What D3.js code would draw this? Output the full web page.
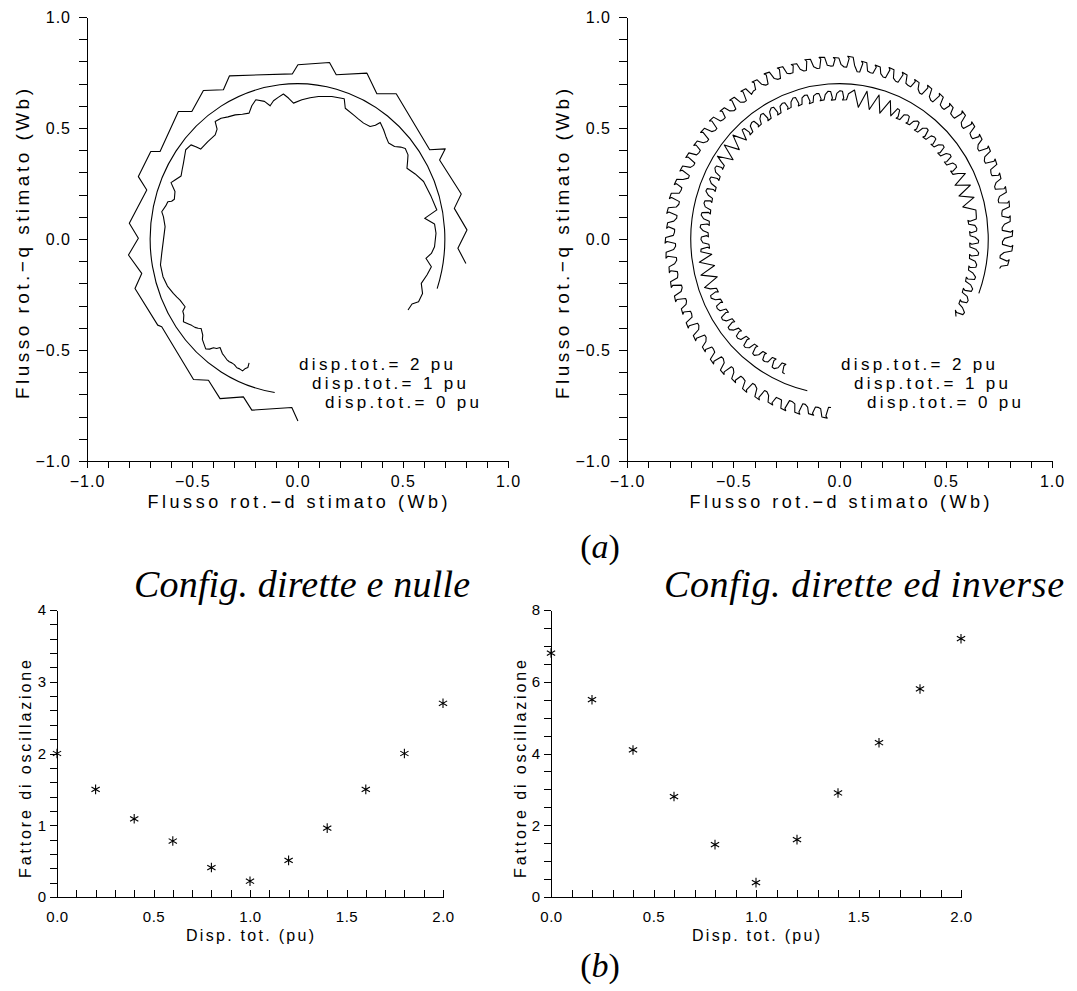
<!DOCTYPE html>
<html>
<head>
<meta charset="utf-8">
<script src="https://cdn.jsdelivr.net/npm/d3@7"></script>
<style>
  body { margin: 0; background: #fff; }
  svg { display: block; background: #fff; }
  .sans { font-family: "Liberation Sans", Arial, Helvetica, sans-serif; fill: #000; }
  .serif { font-family: "Liberation Serif", "Times New Roman", Times, serif; fill: #000; }
  .axis path, .axis line { stroke: #000; stroke-width: 1; shape-rendering: crispEdges; }
  .trace { fill: none; stroke: #000; stroke-width: 1.1; stroke-linejoin: round; }
</style>
</head>
<body>
<svg id="fig" width="1077" height="991"></svg>
<script>
// ---------- (a) estimated rotor flux loci ----------
// reference locus for disp.tot.= 0 pu: circle of radius 0.7 Wb, arc limits in degrees
const refRadius = 0.7;
const refArcNulle = [-18.6, 261.1];
const refArcInverse = [-20.5, 257.5];

// "Config. dirette e nulle", disp.tot.= 2 pu  (d, q) in Wb
const nulle2pu = [
  [0.002,-0.820],[-0.027,-0.759],[-0.217,-0.771],[-0.257,-0.711],[-0.368,-0.719],
  [-0.423,-0.636],[-0.494,-0.633],[-0.645,-0.395],[-0.664,-0.388],[-0.772,-0.223],
  [-0.740,-0.155],[-0.803,-0.072],[-0.756,0.003],[-0.799,0.071],[-0.716,0.221],
  [-0.756,0.281],[-0.697,0.394],[-0.653,0.394],[-0.566,0.574],[-0.502,0.574],
  [-0.447,0.669],[-0.352,0.672],[-0.323,0.735],[-0.024,0.744],[0.002,0.785],
  [0.152,0.795],[0.184,0.740],[0.330,0.747],[0.377,0.654],[0.469,0.654],
  [0.628,0.402],[0.702,0.406],[0.675,0.356],[0.778,0.203],[0.745,0.138],
  [0.805,0.041],[0.762,-0.042],[0.800,-0.110]
];

// "Config. dirette e nulle", disp.tot.= 1 pu  (d, q) in Wb
const nulle1pu = [
  [-0.230,-0.558],[-0.236,-0.579],[-0.250,-0.585],[-0.261,-0.594],[-0.275,-0.585],[-0.288,-0.580],
  [-0.300,-0.566],[-0.312,-0.558],[-0.324,-0.553],[-0.336,-0.543],[-0.348,-0.527],[-0.357,-0.516],
  [-0.368,-0.489],[-0.384,-0.493],[-0.399,-0.490],[-0.418,-0.496],[-0.436,-0.495],[-0.445,-0.471],
  [-0.452,-0.452],[-0.450,-0.433],[-0.458,-0.403],[-0.472,-0.402],[-0.487,-0.398],[-0.503,-0.389],
  [-0.518,-0.383],[-0.542,-0.373],[-0.540,-0.343],[-0.545,-0.325],[-0.534,-0.305],[-0.558,-0.275],
  [-0.573,-0.262],[-0.590,-0.245],[-0.618,-0.212],[-0.639,-0.170],[-0.651,-0.117],[-0.645,-0.065],
  [-0.637,-0.005],[-0.629,0.056],[-0.637,0.101],[-0.645,0.123],[-0.626,0.149],[-0.616,0.168],
  [-0.598,0.170],[-0.585,0.179],[-0.582,0.214],[-0.601,0.254],[-0.582,0.266],[-0.553,0.284],
  [-0.548,0.312],[-0.542,0.341],[-0.531,0.402],[-0.506,0.424],[-0.483,0.416],[-0.460,0.405],
  [-0.426,0.439],[-0.391,0.469],[-0.382,0.495],[-0.391,0.529],[-0.363,0.544],[-0.330,0.550],
  [-0.296,0.559],[-0.262,0.562],[-0.230,0.567],[-0.217,0.600],[-0.198,0.627],[-0.157,0.620],
  [-0.130,0.600],[-0.114,0.623],[-0.090,0.639],[-0.067,0.653],[-0.043,0.635],[-0.019,0.612],
  [0.021,0.627],[0.060,0.636],[0.100,0.642],[0.163,0.642],[0.222,0.632],[0.227,0.589],
  [0.266,0.559],[0.290,0.540],[0.314,0.522],[0.345,0.507],[0.370,0.512],[0.393,0.525],
  [0.409,0.492],[0.420,0.462],[0.433,0.432],[0.461,0.417],[0.490,0.414],[0.512,0.408],
  [0.525,0.379],[0.523,0.350],[0.520,0.319],[0.559,0.293],[0.599,0.259],[0.635,0.191],
  [0.662,0.131],[0.604,0.093],[0.651,0.068],[0.658,0.026],[0.651,-0.035],[0.636,-0.065],
  [0.610,-0.087],[0.636,-0.125],[0.615,-0.162],[0.588,-0.200],[0.594,-0.245],[0.575,-0.283],
  [0.544,-0.293],[0.525,-0.320]
];

// "Config. dirette ed inverse", disp.tot.= 2 pu  [angle deg, magnitude Wb]
const inverse2pu = [
  [267,.76],[266.1,.76],[265.4,.80],[265.9,.809],[264.1,.806],[263.4,.77],
  [262.4,.765],[261.5,.765],[260.8,.795],[261.3,.803],[259.5,.80],[258.8,.772],
  [257.8,.762],[256.9,.762],[256.2,.802],[256.7,.811],[254.9,.808],[254.2,.772],
  [253,.765],[252.1,.765],[251.4,.805],[251.9,.814],[250.1,.811],[249.4,.775],
  [248.3,.773],[247.4,.773],[246.7,.803],[247.2,.811],[245.4,.808],[244.7,.78],
  [243.6,.768],[242.7,.768],[242,.808],[242.5,.817],[240.7,.814],[240,.778],
  [238.8,.768],[237.9,.768],[237.2,.808],[237.7,.817],[235.9,.814],[235.2,.778],
  [234,.773],[233.1,.773],[232.4,.803],[232.9,.811],[231.1,.808],[230.4,.78],
  [229.4,.768],[228.5,.768],[227.8,.808],[228.3,.817],[226.5,.814],[225.8,.778],
  [224.6,.768],[223.7,.768],[223,.808],[223.5,.817],[221.7,.814],[221,.778],
  [219.9,.773],[219,.773],[218.3,.803],[218.8,.811],[217,.808],[216.3,.78],
  [215.2,.768],[214.3,.768],[213.6,.808],[214.1,.817],[212.3,.814],[211.6,.778],
  [210.5,.768],[209.6,.768],[208.9,.808],[209.4,.817],[207.6,.814],[206.9,.778],
  [205.8,.773],[204.9,.773],[204.2,.803],[204.7,.811],[202.9,.808],[202.2,.78],
  [201.2,.772],[200.3,.772],[199.6,.812],[200.1,.821],[198.3,.818],[197.6,.782],
  [196.5,.772],[195.6,.772],[194.9,.812],[195.4,.821],[193.6,.818],[192.9,.782],
  [191.8,.777],[190.9,.777],[190.2,.807],[190.7,.815],[188.9,.812],[188.2,.784],
  [187.1,.772],[186.2,.772],[185.5,.812],[186,.821],[184.2,.818],[183.5,.782],
  [182.4,.772],[181.5,.772],[180.8,.812],[181.3,.821],[179.5,.818],[178.8,.782],
  [177.7,.777],[176.8,.777],[176.1,.807],[176.6,.815],[174.8,.812],[174.1,.784],
  [173,.772],[172.1,.772],[171.4,.812],[171.9,.821],[170.1,.818],[169.4,.782],
  [168.3,.772],[167.4,.772],[166.7,.812],[167.2,.821],[165.4,.818],[164.7,.782],
  [163.6,.777],[162.7,.777],[162,.807],[162.5,.815],[160.7,.812],[160,.784],
  [158.9,.762],[158,.762],[157.3,.802],[157.8,.811],[156,.808],[155.3,.772],
  [154.2,.762],[153.3,.762],[152.6,.802],[153.1,.811],[151.3,.808],[150.6,.772],
  [149.5,.767],[148.6,.767],[147.9,.797],[148.4,.805],[146.6,.802],[145.9,.774],
  [144.8,.762],[143.9,.762],[143.2,.802],[143.7,.811],[141.9,.808],[141.2,.772],
  [140.1,.762],[139.2,.762],[138.5,.802],[139,.811],[137.2,.808],[136.5,.772],
  [135.4,.767],[134.5,.767],[133.8,.797],[134.3,.805],[132.5,.802],[131.8,.774],
  [130.7,.762],[129.8,.762],[129.1,.802],[129.6,.811],[127.8,.808],[127.1,.772],
  [126,.762],[125.1,.762],[124.4,.802],[124.9,.811],[123.1,.808],[122.4,.772],
  [121.3,.78],[120.4,.78],[119.7,.81],[120.2,.818],[118.4,.815],[117.7,.787],
  [116.6,.775],[115.7,.775],[115,.815],[115.5,.824],[113.7,.821],[113,.785],
  [111.9,.775],[111,.775],[110.3,.815],[110.8,.824],[109,.821],[108.3,.785],
  [107.2,.78],[106.3,.78],[105.6,.81],[106.1,.818],[104.3,.815],[103.6,.787],
  [102.5,.775],[101.6,.775],[100.9,.815],[101.4,.824],[99.6,.821],[98.9,.785],
  [97.8,.775],[96.9,.775],[96.2,.815],[96.7,.824],[94.9,.821],[94.2,.785],
  [93.1,.78],[92.2,.78],[91.5,.81],[92,.818],[90.2,.815],[89.5,.787],
  [88.4,.775],[87.5,.775],[86.8,.815],[87.3,.824],[85.5,.821],[84.8,.785],
  [83.7,.758],[82.8,.758],[82.1,.798],[82.6,.807],[80.8,.804],[80.1,.768],
  [79,.763],[78.1,.763],[77.4,.793],[77.9,.801],[76.1,.798],[75.4,.77],
  [74.3,.758],[73.4,.758],[72.7,.798],[73.2,.807],[71.4,.804],[70.7,.768],
  [69.6,.758],[68.7,.758],[68,.798],[68.5,.807],[66.7,.804],[66,.768],
  [64.9,.763],[64,.763],[63.3,.793],[63.8,.801],[62,.798],[61.3,.77],
  [60.2,.758],[59.3,.758],[58.6,.798],[59.1,.807],[57.3,.804],[56.6,.768],
  [55.5,.758],[54.6,.758],[53.9,.798],[54.4,.807],[52.6,.804],[51.9,.768],
  [50.8,.763],[49.9,.763],[49.2,.793],[49.7,.801],[47.9,.798],[47.2,.77],
  [46.1,.767],[45.2,.767],[44.5,.807],[45,.816],[43.2,.813],[42.5,.777],
  [41.4,.767],[40.5,.767],[39.8,.807],[40.3,.816],[38.5,.813],[37.8,.777],
  [36.7,.772],[35.8,.772],[35.1,.802],[35.6,.81],[33.8,.807],[33.1,.779],
  [32,.767],[31.1,.767],[30.4,.807],[30.9,.816],[29.1,.813],[28.4,.777],
  [27.3,.767],[26.4,.767],[25.7,.807],[26.2,.816],[24.4,.813],[23.7,.777],
  [22.6,.772],[21.7,.772],[21,.802],[21.5,.81],[19.7,.807],[19,.779],
  [17.9,.767],[17,.767],[16.3,.807],[16.8,.816],[15,.813],[14.3,.777],
  [13.2,.767],[12.3,.767],[11.6,.807],[12.1,.816],[10.3,.813],[9.6,.777],
  [8.5,.772],[7.6,.772],[6.9,.802],[7.4,.81],[5.6,.807],[4.9,.779],
  [3.8,.767],[2.9,.767],[2.2,.807],[2.7,.816],[0.9,.813],[0.2,.777],
  [-0.9,.767],[-1.8,.767],[-2.5,.807],[-2,.816],[-3.8,.813],[-4.5,.777],
  [-5.6,.76],[-6.5,.76],[-7.2,.795],[-6.7,.804],[-8.5,.80],[-9.2,.77],
  [-10,.765]
];

// "Config. dirette ed inverse", disp.tot.= 1 pu  [angle deg, magnitude Wb]
const inverse1pu = [
  [247,0.66],[246,0.658],[245.4,0.628],[245.9,0.618],[244.2,0.62],[243.5,0.648],
  [242.2,0.66],[241.2,0.658],[240.6,0.628],[241.1,0.618],[239.4,0.62],[238.7,0.648],
  [237.4,0.655],[236.4,0.653],[235.8,0.628],[236.3,0.62],[234.6,0.622],[233.9,0.645],
  [232.6,0.66],[231.6,0.658],[231,0.628],[231.5,0.618],[229.8,0.62],[229.1,0.648],
  [227.8,0.66],[226.8,0.658],[226.2,0.628],[226.7,0.618],[225,0.62],[224.3,0.648],
  [223,0.655],[222,0.653],[221.4,0.628],[221.9,0.62],[220.2,0.622],[219.5,0.645],
  [218.2,0.66],[217.2,0.658],[216.6,0.628],[217.1,0.618],[215.4,0.62],[214.7,0.648],
  [213.4,0.66],[212.4,0.658],[211.8,0.628],[212.3,0.618],[210.6,0.62],[209.9,0.648],
  [208.6,0.655],[207.6,0.653],[207,0.628],[207.5,0.62],[205.8,0.622],[205.1,0.645],
  [203.8,0.66],[202.8,0.658],[202.2,0.628],[202.7,0.618],[201,0.62],[200.3,0.648],
  [199,0.672],[196.5,0.60],[194,0.672],[191.5,0.60],[189,0.668],[186.5,0.605],
  [185,0.655],[184,0.653],[183.4,0.623],[183.9,0.613],[182.2,0.615],[181.5,0.643],
  [180.2,0.652],[179.2,0.65],[178.6,0.625],[179.1,0.617],[177.4,0.619],[176.7,0.642],
  [175.4,0.658],[174.4,0.656],[173.8,0.626],[174.3,0.616],[172.6,0.618],[171.9,0.646],
  [170.6,0.66],[169.6,0.658],[169,0.628],[169.5,0.618],[167.8,0.62],[167.1,0.648],
  [165.8,0.658],[164.8,0.656],[164.2,0.631],[164.7,0.623],[163,0.625],[162.3,0.648],
  [161,0.665],[160,0.663],[159.4,0.633],[159.9,0.623],[158.2,0.625],[157.5,0.653],
  [156.2,0.668],[155.2,0.666],[154.6,0.636],[155.1,0.626],[153.4,0.628],[152.7,0.656],
  [151.4,0.668],[150.4,0.666],[149.8,0.641],[150.3,0.633],[148.6,0.635],[147.9,0.658],
  [147,0.685],[144.5,0.615],[142,0.688],[139.5,0.62],[137,0.686],[134.5,0.625],
  [133,0.672],[132,0.67],[131.4,0.64],[131.9,0.63],[130.2,0.632],[129.5,0.66],
  [128.2,0.668],[127.2,0.666],[126.6,0.641],[127.1,0.633],[125.4,0.635],[124.7,0.658],
  [123.4,0.672],[122.4,0.67],[121.8,0.64],[122.3,0.63],[120.6,0.632],[119.9,0.66],
  [118.6,0.672],[117.6,0.67],[117,0.64],[117.5,0.63],[115.8,0.632],[115.1,0.66],
  [113.8,0.668],[112.8,0.666],[112.2,0.641],[112.7,0.633],[111,0.635],[110.3,0.658],
  [109,0.672],[108,0.67],[107.4,0.64],[107.9,0.63],[106.2,0.632],[105.5,0.66],
  [104.2,0.668],[103.2,0.666],[102.6,0.636],[103.1,0.626],[101.4,0.628],[100.7,0.656],
  [99.4,0.664],[98.4,0.662],[97.8,0.637],[98.3,0.629],[96.6,0.631],[95.9,0.654],
  [94.6,0.668],[93.6,0.666],[93,0.636],[93.5,0.626],[91.8,0.628],[91.1,0.656],
  [89.8,0.668],[88.8,0.666],[88.2,0.636],[88.7,0.626],[87,0.628],[86.3,0.656],
  [84,0.675],[81.5,0.60],[79,0.678],[76.5,0.60],[74,0.675],[71.5,0.598],[69,0.668],[66.5,0.605],
  [65,0.648],[64,0.646],[63.4,0.616],[63.9,0.606],[62.2,0.608],[61.5,0.636],
  [60.2,0.644],[59.2,0.642],[58.6,0.617],[59.1,0.609],[57.4,0.611],[56.7,0.634],
  [55.4,0.646],[54.4,0.644],[53.8,0.614],[54.3,0.604],[52.6,0.606],[51.9,0.634],
  [50.6,0.646],[49.6,0.644],[49,0.614],[49.5,0.604],[47.8,0.606],[47.1,0.634],
  [45.8,0.641],[44.8,0.639],[44.2,0.614],[44.7,0.606],[43,0.608],[42.3,0.631],
  [41,0.645],[40,0.643],[39.4,0.613],[39.9,0.603],[38.2,0.605],[37.5,0.633],
  [36.2,0.645],[35.2,0.643],[34.6,0.613],[35.1,0.603],[33.4,0.605],[32.7,0.633],
  [31.4,0.641],[30.4,0.639],[29.8,0.614],[30.3,0.606],[28.6,0.608],[27.9,0.631],
  [26.5,0.662],[24,0.595],[21.5,0.662],[19,0.595],[16.5,0.66],[14,0.598],[11.5,0.655],
  [9,0.652],[8,0.65],[7.4,0.62],[7.9,0.61],[6.2,0.612],[5.5,0.64],
  [4.2,0.648],[3.2,0.646],[2.6,0.621],[3.1,0.613],[1.4,0.615],[0.7,0.638],
  [-0.6,0.655],[-1.6,0.653],[-2.2,0.623],[-1.7,0.613],[-3.4,0.615],[-4.1,0.643],
  [-5.4,0.658],[-6.4,0.656],[-7,0.626],[-6.5,0.616],[-8.2,0.618],[-8.9,0.646],
  [-10.2,0.656],[-11.2,0.654],[-11.8,0.629],[-11.3,0.621],[-13,0.623],[-13.7,0.646],
  [-15,0.663],[-16,0.661],[-16.6,0.631],[-16.1,0.621],[-17.8,0.623],[-18.5,0.651],
  [-19.8,0.666],[-20.8,0.664],[-21.4,0.634],[-20.9,0.624],[-22.6,0.626],[-23.3,0.654],
  [-24.6,0.666],[-25.6,0.664],[-26.2,0.639],[-25.7,0.631],[-27.4,0.633],[-28.1,0.656],
  [-29.4,0.675],[-30.4,0.673],[-31,0.643],[-30.5,0.633],[-32.5,0.65]
];

const legendLines = ["disp.tot.=  2  pu", "disp.tot.=  1  pu", "disp.tot.=  0  pu"];

// ---------- (b) oscillation factor vs total displacement ----------
const dispTot = [0.0, 0.2, 0.4, 0.6, 0.8, 1.0, 1.2, 1.4, 1.6, 1.8, 2.0];
const oscNulle = [2.0, 1.5, 1.09, 0.78, 0.41, 0.22, 0.51, 0.96, 1.5, 2.0, 2.7];
const oscInverse = [6.8, 5.5, 4.1, 2.8, 1.46, 0.4, 1.6, 2.9, 4.3, 5.8, 7.2];

const fluxTicks = d3.range(-10, 11).map(i => i / 10);
const fluxLabels = [-1, -0.5, 0, 0.5, 1];
const dispTicks = d3.range(0, 21).map(i => i / 10);
const dispLabels = [0, 0.5, 1, 1.5, 2];
const oscNulleTicks = d3.range(0, 21).map(i => i / 5);
const oscNulleLabels = [0, 1, 2, 3, 4];
const oscInverseTicks = d3.range(0, 17).map(i => i / 2);
const oscInverseLabels = [0, 2, 4, 6, 8];

const svg = d3.select("#fig");
const fmt1 = d3.format(".1f");
const isIn = (arr, d) => arr.some(v => Math.abs(v - d) < 1e-9);
const rad = Math.PI / 180;

function fluxPanel(cfg) {
  const x = d3.scaleLinear([-1, 1], [cfg.left, cfg.right]);
  const y = d3.scaleLinear([-1, 1], [cfg.bottom, cfg.top]);
  const g = svg.append("g");

  g.append("g").attr("class", "axis sans")
    .attr("transform", `translate(${cfg.left},0)`)
    .call(d3.axisLeft(y).tickValues(fluxTicks).tickSize(8).tickPadding(8).tickSizeOuter(0)
      .tickFormat(d => isIn(fluxLabels, d) ? fmt1(d) : ""))
    .call(a => a.selectAll("text").attr("font-size", 16).attr("font-family", null).attr("letter-spacing", 1));

  g.append("g").attr("class", "axis sans")
    .attr("transform", `translate(0,${cfg.bottom})`)
    .call(d3.axisBottom(x).tickValues(fluxTicks).tickSize(7).tickPadding(8).tickSizeOuter(0)
      .tickFormat(d => isIn(fluxLabels, d) ? fmt1(d) : ""))
    .call(a => a.selectAll("text").attr("font-size", 16).attr("font-family", null).attr("letter-spacing", 1));

  g.selectAll(".axis").attr("fill", null);

  // axis titles
  g.append("text").attr("class", "sans")
    .attr("x", (cfg.left + cfg.right) / 2).attr("y", cfg.bottom + 47)
    .attr("text-anchor", "middle").attr("font-size", 18)
    .attr("textLength", 300).attr("lengthAdjust", "spacing")
    .text("Flusso  rot.\u2212d  stimato  (Wb)");
  g.append("text").attr("class", "sans")
    .attr("transform", `translate(${cfg.left - 58},${(cfg.top + cfg.bottom) / 2 + 5}) rotate(-90)`)
    .attr("text-anchor", "middle").attr("font-size", 19)
    .attr("textLength", 310).attr("lengthAdjust", "spacing")
    .text("Flusso  rot.\u2212q  stimato  (Wb)");

  // reference circle arc (disp.tot.= 0 pu), drawn in data units
  const kx = x(1) - x(0), ky = y(0) - y(1);
  const p = d3.path();
  p.arc(0, 0, refRadius, cfg.arc[0] * rad, cfg.arc[1] * rad, false);
  g.append("path").attr("class", "trace")
    .attr("transform", `translate(${x(0)},${y(0)}) scale(${kx},${-ky})`)
    .attr("vector-effect", "non-scaling-stroke")
    .attr("d", p.toString());

  cfg.traces.forEach(t => {
    const line = t.polar
      ? d3.line().x(d => x(d[1] * Math.cos(d[0] * rad))).y(d => y(d[1] * Math.sin(d[0] * rad)))
      : d3.line().x(d => x(d[0])).y(d => y(d[1]));
    g.append("path").attr("class", "trace").attr("stroke-width", t.width || 1.1).attr("d", line(t.data));
  });

  // legend text
  legendLines.forEach((s, i) => {
    g.append("text").attr("class", "sans")
      .attr("x", cfg.legendX + i * 13).attr("y", 370 + i * 19)
      .attr("font-size", 17).attr("textLength", 154).attr("lengthAdjust", "spacing")
      .text(s);
  });
}

fluxPanel({
  left: 87, right: 508, top: 17, bottom: 461, arc: refArcNulle, legendX: 299,
  traces: [{ data: nulle2pu }, { data: nulle1pu, width: 1.3 }]
});
fluxPanel({
  left: 627, right: 1052, top: 17, bottom: 461, arc: refArcInverse, legendX: 841,
  traces: [{ data: inverse2pu, polar: true, width: 1 }, { data: inverse1pu, polar: true, width: 1 }]
});

function oscPanel(cfg) {
  const x = d3.scaleLinear([0, 2], [cfg.left, cfg.right]);
  const y = d3.scaleLinear([0, cfg.yMax], [cfg.bottom, cfg.top]);
  const g = svg.append("g");

  g.append("g").attr("class", "axis sans")
    .attr("transform", `translate(${cfg.left},0)`)
    .call(d3.axisLeft(y).tickValues(cfg.yTicks).tickSize(7).tickPadding(4).tickSizeOuter(0)
      .tickFormat(d => isIn(cfg.yLabels, d) ? d3.format("d")(d) : ""))
    .call(a => a.selectAll("text").attr("font-size", 15).attr("font-family", null));

  g.append("g").attr("class", "axis sans")
    .attr("transform", `translate(0,${cfg.bottom})`)
    .call(d3.axisBottom(x).tickValues(dispTicks).tickSize(-7).tickPadding(14).tickSizeOuter(0)
      .tickFormat(d => isIn(dispLabels, d) ? fmt1(d) : ""))
    .call(a => a.selectAll("text").attr("font-size", 15).attr("font-family", null).attr("letter-spacing", 0.5));

  g.selectAll(".axis").attr("fill", null);

  g.append("text").attr("class", "sans")
    .attr("x", (cfg.left + cfg.right) / 2).attr("y", cfg.bottom + 44)
    .attr("text-anchor", "middle").attr("font-size", 16)
    .attr("textLength", 128).attr("lengthAdjust", "spacing")
    .text("Disp.  tot.  (pu)");
  g.append("text").attr("class", "sans")
    .attr("transform", `translate(${cfg.titleX},${769}) rotate(-90)`)
    .attr("text-anchor", "middle").attr("font-size", 16)
    .attr("textLength", 218).attr("lengthAdjust", "spacing")
    .text("Fattore  di  oscillazione");

  const sym = d3.symbol(d3.symbolAsterisk, 64);
  g.selectAll(".pt").data(dispTot.map((d, i) => [d, cfg.values[i]])).join("path")
    .attr("class", "trace").attr("stroke-width", 1.2)
    .attr("transform", d => `translate(${x(d[0])},${y(d[1])})`)
    .attr("d", sym);
}

oscPanel({ left: 57, right: 443, top: 610, bottom: 897, yMax: 4,
  yTicks: oscNulleTicks, yLabels: oscNulleLabels, values: oscNulle, titleX: 31 });
oscPanel({ left: 551, right: 961, top: 610, bottom: 897, yMax: 8,
  yTicks: oscInverseTicks, yLabels: oscInverseLabels, values: oscInverse, titleX: 526 });

// panel captions and sub-figure letters
svg.append("text").attr("class", "serif").attr("x", 302).attr("y", 597)
  .attr("text-anchor", "middle").attr("font-size", 38).attr("font-style", "italic")
  .attr("textLength", 336).attr("lengthAdjust", "spacing")
  .text("Config. dirette e nulle");
svg.append("text").attr("class", "serif").attr("x", 864).attr("y", 597)
  .attr("text-anchor", "middle").attr("font-size", 38).attr("font-style", "italic")
  .attr("textLength", 400).attr("lengthAdjust", "spacing")
  .text("Config. dirette ed inverse");

const letter = (t, cy) => {
  const tx = svg.append("text").attr("class", "serif").attr("x", 600).attr("y", cy)
    .attr("text-anchor", "middle").attr("font-size", 34);
  tx.append("tspan").text("(");
  tx.append("tspan").attr("font-style", "italic").text(t);
  tx.append("tspan").text(")");
};
letter("a", 558);
letter("b", 977);
</script>
</body>
</html>
